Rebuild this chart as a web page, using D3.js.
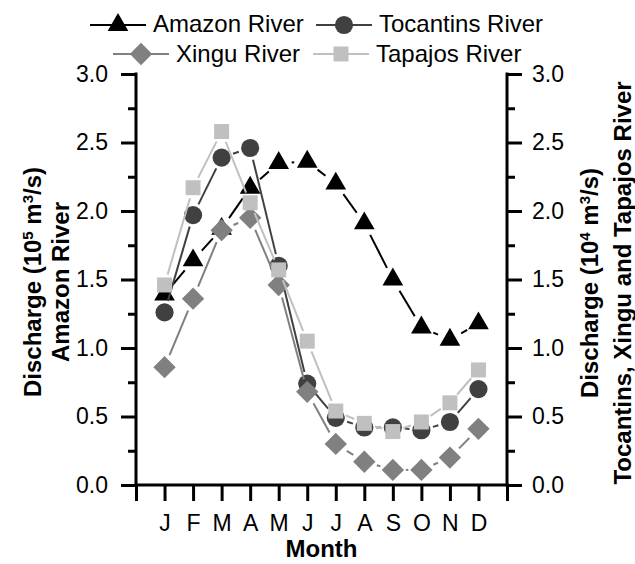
<!DOCTYPE html>
<html><head><meta charset="utf-8">
<script src="https://cdn.jsdelivr.net/npm/d3@7"></script>
<style>body{margin:0;background:#fff}svg{display:block}text{font-family:"Liberation Sans",Arial,sans-serif}</style>
</head><body><svg id="c" width="635" height="564"></svg>
<script>
const months = ["J","F","M","A","M","J","J","A","S","O","N","D"];
const amazon    = [1.39,1.64,1.87,2.17,2.35,2.36,2.20,1.91,1.50,1.15,1.06,1.18];
const tocantins = [1.26,1.97,2.39,2.46,1.60,0.74,0.49,0.42,0.42,0.40,0.46,0.70];
const xingu     = [0.86,1.36,1.86,1.95,1.46,0.68,0.30,0.17,0.11,0.11,0.20,0.41];
const tapajos   = [1.46,2.17,2.58,2.06,1.57,1.05,0.54,0.45,0.39,0.46,0.60,0.84];
const yTicks = [0,0.5,1.0,1.5,2.0,2.5,3.0];
const yMinor = [0.25,0.75,1.25,1.75,2.25,2.75];

const series = [
  {name:"Amazon River", values:amazon, color:"#000000", sym:"tri"},
  {name:"Tocantins River", values:tocantins, color:"#404040", sym:"circle"},
  {name:"Xingu River", values:xingu, color:"#808080", sym:"diamond"},
  {name:"Tapajos River", values:tapajos, color:"#c0c0c0", sym:"square"}
];

const svg = d3.select("#c");
const L=136, R=507, T=74, B=485;
const x = d3.scaleLinear().domain([0,13]).range([L,R]);
const y = d3.scaleLinear().domain([0,3]).range([B,T]);

function symPath(s){
  if(s==="tri") return d3.symbol(d3.symbolTriangle,185)();
  if(s==="circle") return d3.symbol(d3.symbolCircle,260)();
  if(s==="diamond") return d3.symbol(d3.symbolSquare,250)();
  return d3.symbol(d3.symbolSquare,225)();
}
function symRot(s){return s==="diamond"?" rotate(45)":"";}
const gapR = {tri:13,circle:12,diamond:13,square:11};

const axW = 3;
const tickFont = "23px";
const gL = svg.append("g").attr("transform",`translate(${L},0)`)
  .call(d3.axisLeft(y).tickValues(yTicks).tickFormat(d3.format(".1f")).tickSize(15).tickPadding(13));
const gLm = svg.append("g").attr("transform",`translate(${L},0)`)
  .call(d3.axisLeft(y).tickValues(yMinor).tickFormat("").tickSize(8));
const gR = svg.append("g").attr("transform",`translate(${R},0)`)
  .call(d3.axisRight(y).tickValues(yTicks).tickFormat(d3.format(".1f")).tickSize(15).tickPadding(10));
const gRm = svg.append("g").attr("transform",`translate(${R},0)`)
  .call(d3.axisRight(y).tickValues(yMinor).tickFormat("").tickSize(8));
const gB = svg.append("g").attr("transform",`translate(0,${B})`)
  .call(d3.axisBottom(x).tickValues(d3.range(0,14)).tickFormat(d=> (d>=1&&d<=12)?months[d-1]:"").tickSize(16).tickPadding(14));
[gL,gLm,gR,gRm,gB].forEach(g=>{
  g.select(".domain").remove();
  g.selectAll(".tick line").attr("stroke","#000").attr("stroke-width",axW);
  g.selectAll("text").attr("fill","#000").style("font-size",tickFont).attr("font-family",null);
});
svg.append("line").attr("x1",L).attr("x2",L).attr("y1",T-1.5).attr("y2",B+1.5).attr("stroke","#000").attr("stroke-width",axW);
svg.append("line").attr("x1",R).attr("x2",R).attr("y1",T-1.5).attr("y2",B+1.5).attr("stroke","#000").attr("stroke-width",axW);
svg.append("line").attr("x1",L-1.5).attr("x2",R+1.5).attr("y1",B).attr("y2",B).attr("stroke","#000").attr("stroke-width",axW);

series.forEach(s=>{
  const pts = s.values.map((v,i)=>[x(i+1),y(v)]);
  const g = svg.append("g");
  const gap = gapR[s.sym];
  for(let i=0;i<pts.length-1;i++){
    const [x1,y1]=pts[i],[x2,y2]=pts[i+1];
    const dx=x2-x1, dy=y2-y1, len=Math.hypot(dx,dy);
    if(len<=2*gap) continue;
    const ux=dx/len, uy=dy/len;
    g.append("line").attr("x1",x1+ux*gap).attr("y1",y1+uy*gap).attr("x2",x2-ux*gap).attr("y2",y2-uy*gap)
      .attr("stroke",s.color).attr("stroke-width",2);
  }
  g.selectAll("path.m").data(pts).join("path").attr("class","m")
    .attr("d",symPath(s.sym)).attr("transform",p=>`translate(${p[0]},${p[1]})${symRot(s.sym)}`)
    .attr("fill",s.color);
});

// legend
const leg = [
  {s:series[0], x:90, y:25, ty:32},
  {s:series[1], x:316, y:25, ty:32},
  {s:series[2], x:113, y:54, ty:62},
  {s:series[3], x:313, y:54, ty:62}
];
leg.forEach(d=>{
  const g = svg.append("g").attr("transform",`translate(${d.x},0)`);
  g.append("line").attr("x1",0).attr("x2",56).attr("y1",d.y).attr("y2",d.y).attr("stroke",d.s.color).attr("stroke-width",2);
  g.append("path").attr("d",symPath(d.s.sym)).attr("transform",`translate(28,${d.y})${symRot(d.s.sym)}`).attr("fill",d.s.color);
  g.append("text").attr("x",63).attr("y",d.ty).style("font-size","24px").attr("fill","#000").text(d.s.name);
});

function title(cx,cy,lines){
  const t = svg.append("g").attr("transform",`translate(${cx},${cy}) rotate(-90)`);
  lines.forEach(l=>{
    const tx = t.append("text").attr("x",0).attr("y",l.dy).attr("text-anchor","middle")
      .style("font-size","24px").style("font-weight","bold").attr("fill","#000");
    l.parts.forEach(p=>{
      const ts = tx.append("tspan").text(p.t);
      if(p.sup) ts.attr("baseline-shift","super").style("font-size","15px");
    });
  });
}
title(41,282,[
  {dy:0, parts:[{t:"Discharge (10"},{t:"5",sup:true},{t:" m"},{t:"3",sup:true},{t:"/s)"}]},
  {dy:28, parts:[{t:"Amazon River"}]}
]);
title(598,283,[
  {dy:0, parts:[{t:"Discharge (10"},{t:"4",sup:true},{t:" m"},{t:"3",sup:true},{t:"/s)"}]},
  {dy:33, parts:[{t:"Tocantins, Xingu and Tapajos River"}]}
]);
svg.append("text").attr("x",(L+R)/2).attr("y",557).attr("text-anchor","middle")
  .style("font-size","24px").style("font-weight","bold").attr("fill","#000").text("Month");
</script></body></html>
